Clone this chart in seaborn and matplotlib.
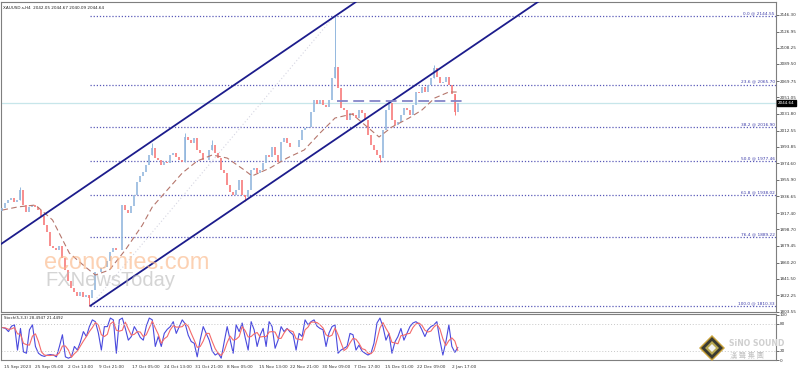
import numpy as np
import pandas as pd
import seaborn as sns
import matplotlib.pyplot as plt
from matplotlib.patches import Polygon

# H4 closes, sampled about every 4 bars
closes = [1923.2, 1929.0, 1932.5, 1934.8, 1930.2, 1932.5, 1944.0, 1926.7, 1918.6, 1924.4,
          1926.7, 1924.4, 1920.9, 1914.0, 1903.6, 1895.5, 1879.4, 1877.1, 1874.8, 1879.4,
          1865.5, 1851.7, 1839.0, 1830.9, 1826.3, 1821.7, 1826.3, 1820.5, 1822.8, 1819.4,
          1828.6, 1849.4, 1849.4, 1854.0, 1855.1, 1862.1, 1872.5, 1877.1, 1874.8, 1874.8,
          1926.7, 1920.9, 1917.5, 1925.5, 1938.2, 1953.2, 1960.2, 1964.8, 1972.9, 1984.4,
          1992.5, 1980.9, 1978.6, 1972.9, 1976.3, 1975.2, 1984.4, 1986.7, 1982.1, 1978.6,
          1976.3, 2005.2, 2001.7, 1998.2, 2004.0, 1990.2, 1986.7, 1978.6, 1978.6, 1990.2,
          1995.9, 1986.7, 1980.9, 1967.1, 1963.6, 1949.8, 1941.7, 1938.2, 1944.0, 1955.5,
          1938.2, 1935.9, 1944.0, 1967.1, 1969.4, 1963.6, 1967.1, 1975.2, 1984.4, 1982.1,
          1993.6, 1984.4, 1976.3, 1999.4, 2004.0, 1998.2, 1993.6, 1993.6, 1993.6, 2001.7,
          2013.2, 2015.6, 2016.7, 2034.0, 2047.9, 2043.3, 2047.9, 2042.1, 2039.8, 2047.9,
          2073.2, 2085.9, 2061.7, 2038.6, 2036.3, 2024.8, 2032.9, 2030.6, 2027.1, 2036.3,
          2032.9, 2024.8, 2007.5, 1996.0, 1990.2, 1984.4, 1980.9, 2013.2, 2036.3, 2044.4,
          2024.8, 2019.0, 2022.5, 2030.6, 2038.6, 2036.3, 2030.6, 2042.1, 2057.1, 2055.9,
          2062.9, 2057.1, 2065.2, 2073.2, 2084.8, 2074.4, 2067.5, 2068.6, 2074.4, 2065.2,
          2055.0, 2034.0, 2044.6]
first_open = 1920.0

wick_idx = [6, 29, 50, 61, 70, 81, 111, 126, 144, 151]
wick_px = [1947.6, 1810.33, 1998.2, 2009.8, 2001.7, 1931.2, 2144.55, 1976.0, 2088.0, 2030.5]

ma_idx = [0, 5, 11, 16.7, 22.3, 27.7, 31, 35.7, 41, 46.7, 50, 55, 60, 65, 70, 75, 80.7, 83.3,
          89.3, 95, 100.7, 106, 111, 116.7, 121, 125.7, 130, 135.7, 140, 144.3, 149, 152]
ma_vals = [1920.9, 1924.4, 1926.7, 1909.4, 1871.3, 1855.1, 1845.9, 1851.7, 1874.8, 1903.6,
           1924.4, 1944.0, 1963.6, 1977.5, 1984.4, 1980.9, 1967.1, 1960.2, 1969.4, 1980.9,
           1990.2, 2009.8, 2027.1, 2031.7, 2019.0, 2005.2, 2016.7, 2027.1, 2036.3, 2050.2,
           2057.1, 2057.1]

stoch_k = [72, 70, 63, 75, 78, 22, 70, 18, 15, 67, 78, 30, 15, 10, 8, 11, 12, 11, 7, 30,
           56, 7, 4, 7, 30, 22, 40, 63, 52, 74, 89, 85, 60, 22, 74, 74, 93, 89, 15, 89,
           93, 70, 44, 52, 74, 63, 50, 44, 75, 93, 89, 30, 52, 30, 59, 68, 74, 85, 59, 74,
           89, 80, 55, 41, 37, 7, 45, 74, 59, 44, 20, 11, 15, 4, 40, 74, 44, 15, 78, 63,
           82, 50, 22, 85, 67, 30, 55, 70, 30, 85, 74, 26, 44, 74, 63, 70, 62, 56, 22, 59,
           52, 89, 78, 85, 89, 75, 70, 67, 30, 60, 74, 78, 15, 22, 26, 30, 59, 56, 22, 33,
           20, 15, 11, 15, 37, 82, 93, 74, 44, 59, 15, 40, 52, 70, 44, 59, 74, 82, 85, 80,
           67, 52, 67, 74, 78, 85, 44, 11, 40, 78, 30, 17, 28]
stoch_d = [72, 71, 68, 69, 72, 58, 57, 37, 34, 33, 53, 58, 41, 18, 11, 10, 10, 11, 10, 16,
           31, 31, 22, 6, 14, 20, 31, 42, 52, 63, 72, 83, 78, 56, 52, 57, 80, 85, 66, 64,
           66, 84, 69, 55, 57, 63, 62, 52, 56, 71, 86, 71, 57, 37, 47, 52, 67, 76, 73, 73,
           74, 81, 75, 59, 44, 28, 30, 42, 59, 59, 41, 25, 15, 10, 20, 39, 53, 44, 46, 52,
           74, 65, 51, 52, 58, 61, 51, 52, 52, 62, 63, 62, 48, 48, 60, 69, 65, 63, 47, 46,
           44, 67, 73, 84, 84, 83, 78, 71, 56, 52, 55, 71, 56, 38, 21, 26, 38, 48, 46, 37,
           25, 23, 15, 14, 21, 45, 71, 83, 70, 59, 39, 38, 36, 54, 55, 58, 59, 72, 80, 82,
           77, 66, 62, 64, 73, 79, 69, 47, 32, 43, 49, 42, 21]

fib_names = ["0.0", "23.6", "38.2", "50.0", "61.8", "76.4", "100.0"]
fib_prices = [2144.55, 2065.70, 2016.90, 1977.46, 1938.02, 1889.22, 1810.33]
fib_start = 29.3

upper_chan = [(0, 1882.8), (78.3, 2067.5)]
lower_chan = [(29.3, 1810.33), (116.7, 2015.5)]
hi_lo_line = [(29.3, 1810.33), (110.7, 2144.55)]
box_line = [(111.7, 154.0), 2046.7]
last_price = 2044.64

price_ticks = [2146.30, 2126.95, 2108.25, 2089.50, 2069.75, 2051.05, 2031.80, 2012.55,
               1993.85, 1974.60, 1955.90, 1936.65, 1917.40, 1898.70, 1879.45, 1860.20,
               1841.50, 1822.25, 1803.55]
date_pos = [0.5, 11, 21.7, 32.2, 43.3, 53.9, 64.4, 75, 85.6, 96.1, 106.7, 117.2, 127.8, 138.3, 150]
date_labels = ["15 Sep 2023", "25 Sep 05:00", "2 Oct 13:00", "9 Oct 21:00", "17 Oct 05:00",
               "24 Oct 13:00", "31 Oct 21:00", "8 Nov 05:00", "15 Nov 13:00", "22 Nov 21:00",
               "30 Nov 09:00", "7 Dec 17:00", "15 Dec 01:00", "22 Dec 09:00", "2 Jan 17:00"]

sns.set_style("white")
plt.rcParams['font.family'] = ['DejaVu Sans']

fig = plt.figure(figsize=(7.98, 3.71), dpi=100)
ax = fig.add_axes([1/798, 1-312/371, 775/798, 310/371])
ax2 = fig.add_axes([1/798, 1-360/371, 775/798, 46/371])

n = len(closes)
idx = np.arange(n)
opens = [first_open] + closes[:-1]
df = pd.DataFrame({"i": idx, "open": opens, "close": closes})
up = df["close"] >= df["open"]
col_up, col_dn = "#93b8de", "#f77a7a"

# wicks for the notable highs/lows
for i, p in zip(wick_idx, wick_px):
    o, c = opens[i], closes[i]
    lo, hi = min(o, c, p), max(o, c, p)
    ax.vlines(i, lo, hi, color=col_up if c >= o else col_dn, lw=0.7, zorder=3)
ax.vlines(df.loc[up, "i"], df.loc[up, "open"], df.loc[up, "close"], color=col_up, lw=1.2, zorder=3)
ax.vlines(df.loc[~up, "i"], df.loc[~up, "close"], df.loc[~up, "open"], color=col_dn, lw=1.2, zorder=3)

sns.lineplot(x=ma_idx, y=ma_vals, ax=ax, color="#b5766c", lw=0.8, zorder=4)
ax.lines[-1].set_dashes([5, 3])

# fibonacci levels
for name, p in zip(fib_names, fib_prices):
    ax.plot([fib_start, 300], [p, p], color="#5a5ab8", lw=0.9, ls=(0, (1, 1.5)), zorder=2)
    ax.text(257.8, p + 1.0, f"{name} @ {p:.2f}", ha="right", va="bottom",
            fontsize=3.1, color="#3a3aa8", zorder=6)

# channel
ax.axline(upper_chan[0], upper_chan[1], color="#1c1c8c", lw=1.3, zorder=5)
(x0, y0), (x1, y1) = lower_chan
slope = (y1 - y0) / (x1 - x0)
ax.plot([x0, 300], [y0, y0 + slope * (300 - x0)], color="#1c1c8c", lw=1.3, zorder=5)
ax.plot([p[0] for p in hi_lo_line], [p[1] for p in hi_lo_line], color="#d6d6e2", lw=0.8,
        ls=(0, (1, 2)), zorder=2)
ax.plot(list(box_line[0]), [box_line[1]] * 2, color="#8585c8", lw=1.3, ls=(0, (6, 3)), zorder=5)
ax.axhline(last_price, color="#c7e6ea", lw=0.9, zorder=1)

ax.set_xlim(-0.5, 258.2)
ax.set_ylim(1803.2, 2161.0)
ax.set_xticks([])
ax.yaxis.tick_right()
ax.set_yticks(price_ticks)
ax.set_yticklabels([f"{t:.2f}" for t in price_ticks])
ax.tick_params(axis="y", labelsize=3.0, length=2, width=0.5, pad=0.8, colors="#333333")
ax.text(1.0025, (last_price - 1803.2) / (2161.0 - 1803.2), f"{last_price:.2f}",
        transform=ax.transAxes, fontsize=3.0, color="white", va="center", ha="left",
        bbox=dict(boxstyle="square,pad=0.3", fc="black", ec="black"), zorder=10)
ax.text(0.003, 0.988, "XAUUSD.s,H4  2042.05 2044.67 2040.09 2044.64", transform=ax.transAxes,
        fontsize=3.0, va="top", ha="left", color="#222222")

# watermark
ax.text(0.055, 0.14, "economies.com", transform=ax.transAxes, fontsize=17,
        family="Liberation Sans", color="#fbb98a", alpha=0.65, zorder=8)
ax.text(0.057, 0.085, "FXNewsToday", transform=ax.transAxes, fontsize=14.5,
        family="Liberation Sans", color="#b8b8b8", alpha=0.6, zorder=8)

# stochastic
sns.lineplot(x=idx, y=stoch_k, ax=ax2, color="#4a4ade", lw=0.8)
sns.lineplot(x=idx, y=stoch_d, ax=ax2, color="#f46a6a", lw=0.8)
for lvl in [80, 20]:
    ax2.axhline(lvl, color="#c8c8c8", lw=0.7, ls=(0, (1, 2)))
ax2.set_xlim(-0.5, 258.2)
ax2.set_ylim(0, 102)
ax2.yaxis.tick_right()
ax2.set_yticks([100, 80, 20, 0])
ax2.tick_params(axis="y", labelsize=3.0, length=2, width=0.5, pad=0.8, colors="#333333")
ax2.set_xticks(date_pos)
ax2.set_xticklabels(date_labels, ha="left")
ax2.tick_params(axis="x", labelsize=3.1, length=2, width=0.5, pad=1.5, colors="#333333")
ax2.text(0.004, 0.95, "Stoch(5,3,3) 28.4947 21.4492", transform=ax2.transAxes, fontsize=2.8,
         va="top", ha="left", color="#222222")

for a in (ax, ax2):
    for s in a.spines.values():
        s.set_color("#7f7f7f")
        s.set_linewidth(0.8)

# SiNO SOUND logo
W, H = 798, 371
def fig_pts(pts):
    return [(x / W, 1 - y / H) for x, y in pts]
cx, cy = 712, 348
for r, c in [(13, "#c9a23a"), (11, "#3a3a30"), (7, "#b8a850"), (4, "#f2f2f2")]:
    fig.patches.append(Polygon(fig_pts([(cx, cy - r), (cx + r, cy), (cx, cy + r), (cx - r, cy)]),
                               closed=True, fc=c, ec="none", transform=fig.transFigure, zorder=20))
fig.text(729 / W, 1 - 344 / H, "SiNO SOUND", fontsize=5.6, fontweight="bold", color="#cfcfcf",
         va="center", ha="left", zorder=21)
fig.text(730 / W, 1 - 356 / H, "漢 聲 集 團", fontsize=5.2, color="#c4c4c4", va="center",
         ha="left", family=["Noto Sans CJK TC", "DejaVu Sans"], zorder=21)

fig.savefig("out.png", dpi=100)
